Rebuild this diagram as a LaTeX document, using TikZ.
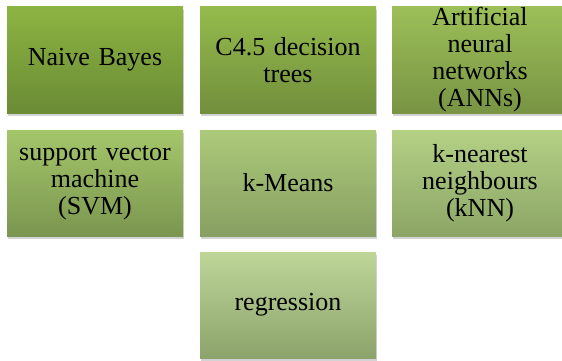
\documentclass[tikz,border=0pt]{standalone}
\usepackage{fontspec}
\setmainfont{Liberation Serif}
\usetikzlibrary{shadows}

\definecolor{nbTop}{HTML}{8CB442}
\definecolor{nbBot}{HTML}{6B8B35}
\definecolor{dtTop}{HTML}{94BB4C}
\definecolor{dtBot}{HTML}{728F3D}
\definecolor{annTop}{HTML}{9CBF58}
\definecolor{annBot}{HTML}{789444}
\definecolor{svmTop}{HTML}{A4C66A}
\definecolor{svmBot}{HTML}{7B9650}
\definecolor{kmTop}{HTML}{ACCA7A}
\definecolor{kmBot}{HTML}{879F62}
\definecolor{knnTop}{HTML}{B4D185}
\definecolor{knnBot}{HTML}{8CA566}
\definecolor{regTop}{HTML}{BDD698}
\definecolor{regBot}{HTML}{8DA36C}

\begin{document}
\begin{tikzpicture}[x=1pt,y=-1pt]
  \tikzstyle{algo}=[rectangle,minimum width=176pt,minimum height=106pt,inner sep=0pt,
    text width=168pt,align=center,font=\fontsize{26}{27}\selectfont,
    drop shadow={shadow xshift=1pt,shadow yshift=-3pt,opacity=0.35}]
  \useasboundingbox (0,0) rectangle (562,361);

  \node[algo,top color=nbTop,bottom color=nbBot] (NB) at (95,60) {Naive Bayes};
  \node[algo,top color=dtTop,bottom color=dtBot] (DT) at (288,60) {C4.5 decision\\trees};
  \node[algo,top color=annTop,bottom color=annBot] (ANN) at (480,60) {Artificial\\neural\\networks\\(ANNs)};

  \node[algo,top color=svmTop,bottom color=svmBot] (SVM) at (95,183) {support vector\\machine\\(SVM)};
  \node[algo,top color=kmTop,bottom color=kmBot] (KM) at (288,183) {k-Means};
  \node[algo,top color=knnTop,bottom color=knnBot] (KNN) at (480,183) {k-nearest\\neighbours\\(kNN)};

  \node[algo,top color=regTop,bottom color=regBot] (REG) at (288,305) {regression};
\end{tikzpicture}
\end{document}
